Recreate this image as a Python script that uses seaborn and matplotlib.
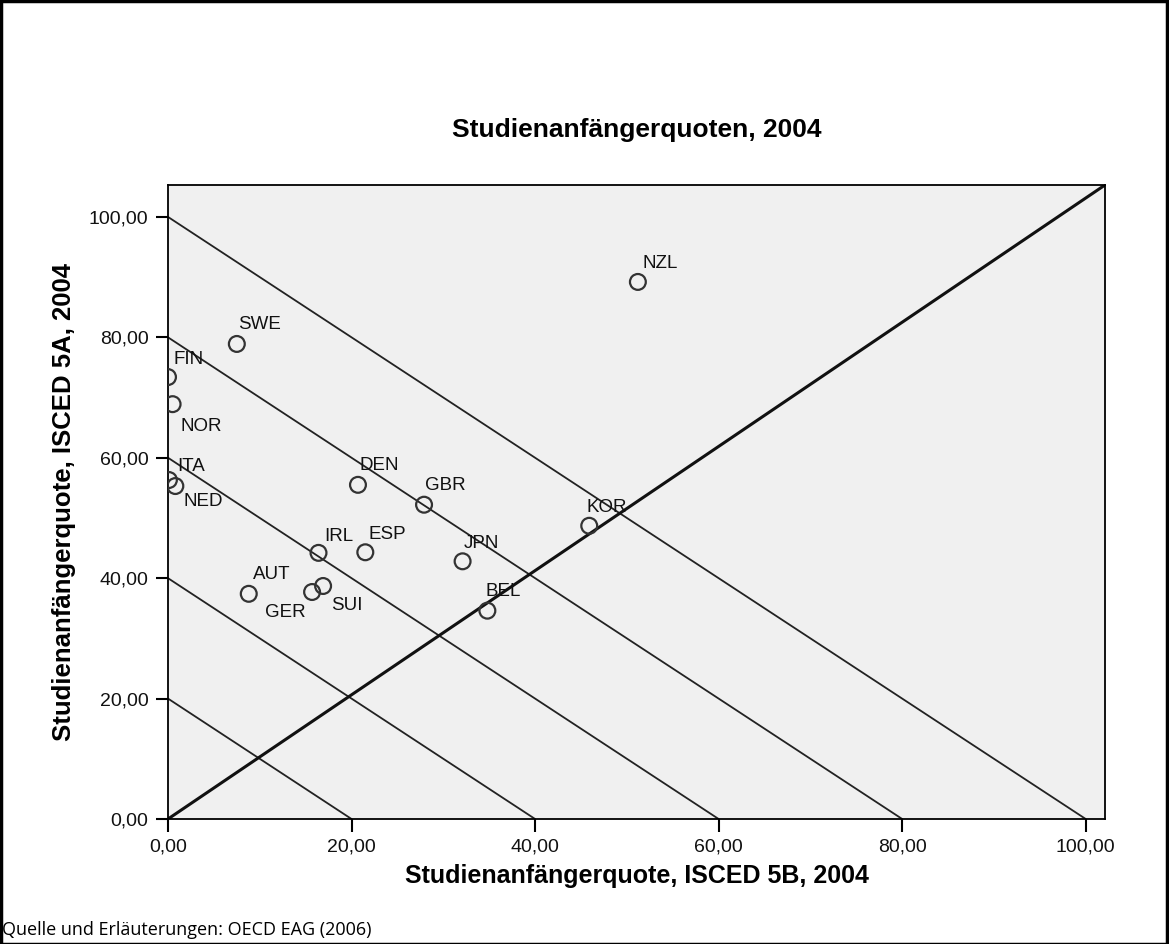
import numpy as np
import pandas as pd
import matplotlib
matplotlib.use("Agg")
import matplotlib.pyplot as plt
import matplotlib.ticker as mticker
import seaborn as sns

# Studienanfaengerquoten 2004 (OECD EAG 2006)
countries = ["NZL", "SWE", "FIN", "NOR", "ITA", "NED", "DEN", "GBR", "KOR",
             "IRL", "ESP", "JPN", "AUT", "GER", "SUI", "BEL"]
isced_5b = [51.2, 7.5, 0.0, 0.5, 0.1, 0.8, 20.7, 27.9, 45.9,
            16.4, 21.5, 32.1, 8.8, 15.7, 16.9, 34.8]
isced_5a = [89.2, 78.9, 73.4, 68.9, 56.3, 55.3, 55.5, 52.2, 48.7,
            44.2, 44.3, 42.8, 37.4, 37.7, 38.7, 34.6]
iso_sums = [20, 40, 60, 80, 100]
ticks = [0, 20, 40, 60, 80, 100]

df = pd.DataFrame({"land": countries, "b": isced_5b, "a": isced_5a})

# label offsets in points (layout only)
offsets = {
    "NZL": (3, 13, "left"), "SWE": (1, 14, "left"), "FIN": (4, 13, "left"),
    "NOR": (6, -16, "left"), "ITA": (6, 10, "left"), "NED": (6, -11, "left"),
    "DEN": (1, 14, "left"), "GBR": (1, 14, "left"), "KOR": (-2, 13, "left"),
    "IRL": (4, 12, "left"), "ESP": (2, 13, "left"), "JPN": (1, 13, "left"),
    "AUT": (3, 14, "left"), "GER": (-5, -15, "right"), "SUI": (6, -14, "left"),
    "BEL": (-1, 14, "left"),
}

sns.set_style("ticks")
plt.rcParams["font.family"] = ["Liberation Sans", "DejaVu Sans"]
plt.rcParams["xtick.bottom"] = True
plt.rcParams["ytick.left"] = True
plt.rcParams["text.color"] = "black"
plt.rcParams["axes.labelcolor"] = "black"
plt.rcParams["xtick.labelcolor"] = "black"
plt.rcParams["ytick.labelcolor"] = "black"

fig = plt.figure(figsize=(11.69, 9.44), dpi=100)
ax = fig.add_axes([168 / 1169, 1 - 819 / 944, (1105 - 168) / 1169, (819 - 185) / 944])
ax.set_facecolor("#f0f0f0")

for s in iso_sums:
    ax.axline((0, s), slope=-1, color="#222222", lw=1.3, zorder=1)
# reference diagonal, drawn from corner to corner
ax.plot([0, 1], [0, 1], transform=ax.transAxes, color="#111111", lw=2.2, zorder=1)

sns.scatterplot(data=df, x="b", y="a", ax=ax, marker="o", s=130,
                facecolor="none", edgecolor="#333333", linewidth=1.6, zorder=3)

for land, x, y in zip(countries, isced_5b, isced_5a):
    dx, dy, ha = offsets[land]
    ax.annotate(land, (x, y), xytext=(dx, dy), textcoords="offset points",
                ha=ha, va="center", fontsize=13.5, color="#111111")

ax.set_xlim(0, 102.1)
ax.set_ylim(0, 105.3)
ax.set_xticks(ticks)
ax.set_yticks(ticks)
fmt = mticker.FuncFormatter(lambda v, p: f"{v:.2f}".replace(".", ","))
ax.xaxis.set_major_formatter(fmt)
ax.yaxis.set_major_formatter(fmt)
ax.tick_params(axis="both", which="major", direction="out", length=9, width=1.5,
               color="black", labelcolor="#111111", labelsize=14, pad=5,
               bottom=True, left=True)
for sp in ax.spines.values():
    sp.set_visible(True)
    sp.set_color("black")
    sp.set_linewidth(1.3)

ax.set_xlabel("Studienanfängerquote, ISCED 5B, 2004", fontsize=18,
              fontweight="bold", labelpad=6, color="black")
ax.set_ylabel("Studienanfängerquote, ISCED 5A, 2004", fontsize=18.5,
              fontweight="bold", labelpad=9, color="black")
fig.text((168 + 1105) / 2 / 1169, 1 - 130 / 944, "Studienanfängerquoten, 2004",
         ha="center", va="center", fontsize=19, fontweight="bold", color="black")

fig.text(2 / 1169, 1 - 930 / 944, "Quelle und Erläuterungen: OECD EAG (2006)",
         ha="left", va="center", fontsize=13, color="black",
         family=["Open Sans", "DejaVu Sans"])

fig.patches.append(plt.Rectangle((0.001, 0.0), 0.997, 0.999, transform=fig.transFigure,
                                 fill=False, edgecolor="black", lw=2.5))

fig.savefig("out.png", dpi=100)
